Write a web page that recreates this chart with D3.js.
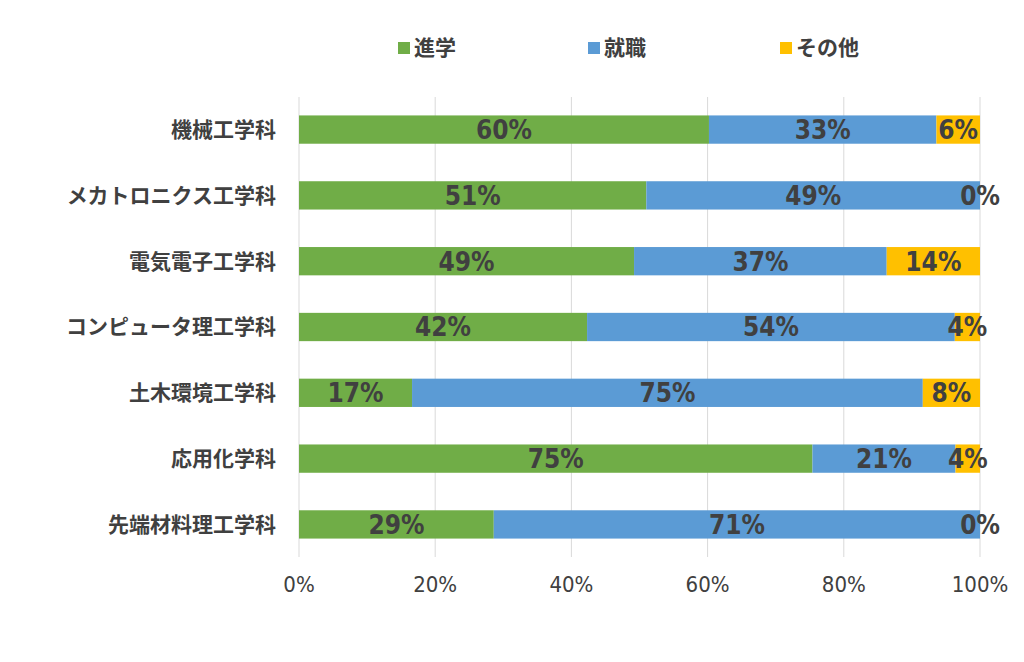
<!DOCTYPE html>
<html><head><meta charset="utf-8">
<script src="https://cdn.jsdelivr.net/npm/d3@7"></script>
<style>body{margin:0;background:#fff}</style>
</head><body>
<svg id="c" width="1024" height="662"></svg>
<script>
const categories = ["機械工学科","メカトロニクス工学科","電気電子工学科","コンピュータ理工学科","土木環境工学科","応用化学科","先端材料理工学科"];
const series = ["進学","就職","その他"];
const shingaku = [60.2, 51.0, 49.2, 42.3, 16.6, 75.4, 28.6];
const shushoku = [33.4, 49.0, 37.1, 54.0, 75.0, 21.0, 71.4];
const sonota   = [6.4, 0.0, 13.7, 3.7, 8.4, 3.6, 0.0];
const ticks = [0, 20, 40, 60, 80, 100];
const colors = ["#70ad47", "#5b9bd5", "#ffc000"];

const svg = d3.select("#c");
const x = d3.scaleLinear().domain([0, 100]).range([299, 980]);
const y = d3.scaleBand().domain(categories).range([97, 557]).paddingInner(0.57).paddingOuter(0.28);
const txt = "#404040";
const numFont = "'Liberation Sans Narrow','DejaVu Sans Condensed',sans-serif";

// gridlines
svg.append("g").selectAll("line").data(ticks).join("line")
  .attr("x1", d => x(d)).attr("x2", d => x(d))
  .attr("y1", 97).attr("y2", 557)
  .attr("stroke", "#d9d9d9").attr("stroke-width", 1);

const rows = categories.map((c, i) => ({c, v: [shingaku[i], shushoku[i], sonota[i]]}));
rows.forEach(r => {
  let acc = 0;
  r.v.forEach((v, j) => {
    const x0 = acc; acc += v;
    svg.append("rect").attr("x", x(x0)).attr("y", y(r.c))
      .attr("width", x(acc) - x(x0)).attr("height", y.bandwidth()).attr("fill", colors[j]);
    svg.append("text").attr("x", (x(x0) + x(acc)) / 2).attr("y", y(r.c) + y.bandwidth() / 2)
      .attr("dy", "0.36em").attr("text-anchor", "middle")
      .attr("font-family", numFont).attr("font-size", 26).attr("font-weight", "bold")
      .attr("fill", txt).text(Math.round(v) + "%");
  });
});

// y labels
svg.append("g").selectAll("text").data(categories).join("text")
  .attr("x", 276).attr("y", d => y(d) + y.bandwidth() / 2).attr("dy", "0.35em")
  .attr("text-anchor", "end").attr("font-family", "'Noto Sans CJK JP'")
  .attr("font-size", 21).attr("font-weight", "bold").attr("fill", txt).text(d => d);

// x axis labels
svg.append("g").selectAll("text").data(ticks).join("text")
  .attr("x", d => x(d)).attr("y", 592).attr("text-anchor", "middle")
  .attr("font-family", numFont).attr("font-size", 22).attr("fill", txt).text(d => d + "%");

// legend
const lx = [398, 588, 780];
series.forEach((s, i) => {
  svg.append("rect").attr("x", lx[i]).attr("y", 42).attr("width", 12).attr("height", 12).attr("fill", colors[i]);
  svg.append("text").attr("x", lx[i] + 16).attr("y", 48).attr("dy", "0.35em")
    .attr("font-family", "'Noto Sans CJK JP'").attr("font-size", 21).attr("font-weight", "bold")
    .attr("fill", txt).text(s);
});
</script>
</body></html>
